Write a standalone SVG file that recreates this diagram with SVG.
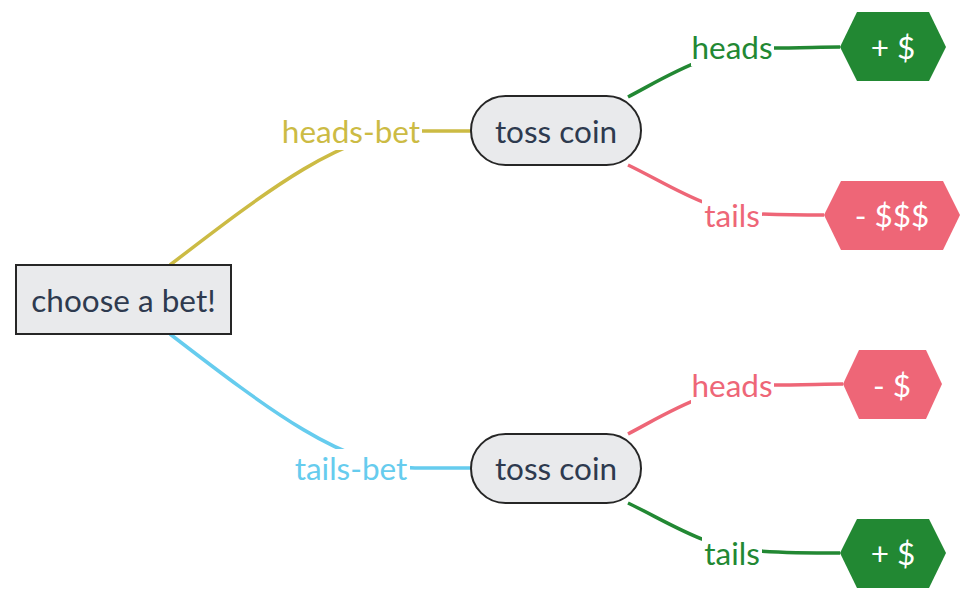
<svg xmlns="http://www.w3.org/2000/svg" width="969" height="595" viewBox="0 0 969 595">
<style>
text{font-family:Lato,"Open Sans","Liberation Sans",sans-serif;font-size:31.5px;text-anchor:middle;dominant-baseline:central}
.node{fill:#e9eaec;stroke:#262626;stroke-width:2}
.nt{fill:#2e3a4f}
.ht{fill:#ffffff}
.edge{fill:none;stroke-width:3.5}
.lbg{fill:#ffffff}
.y{stroke:#ccbb44}.yt{fill:#ccbb44}
.b{stroke:#66ccee}.bt{fill:#66ccee}
.g{stroke:#228833}.gt{fill:#228833}
.r{stroke:#ee6677}.rt{fill:#ee6677}
</style>
<g id="connectors">
<path class="edge y" d="M170,265 C270,188 345,131 415,131 L471,131"/>
<path class="edge b" d="M170,334 C270,411 345,468 415,468 L471,468"/>
<path class="edge g" d="M628,97 C670,75 710,48 770,48 C800,48 820,47 840,47"/>
<path class="edge r" d="M628,165 C670,185 710,214 760,214 C790,215 810,215 824,215"/>
<path class="edge r" d="M628,434 C670,412 710,385 770,385 C800,385 825,384 843,384"/>
<path class="edge g" d="M628,503 C670,523 710,551 760,551 C790,553 815,553 840,553"/>
</g>
<g id="labels">
<g id="lbl-heads-bet"><rect class="lbg" x="280" y="112" width="142" height="38"/><text class="yt" x="351" y="131">heads-bet</text></g>
<g id="lbl-tails-bet"><rect class="lbg" x="293" y="449" width="117" height="38"/><text class="bt" x="351" y="468">tails-bet</text></g>
<g id="lbl-heads-1"><rect class="lbg" x="691" y="28" width="83" height="38"/><text class="gt" x="732" y="47">heads</text></g>
<g id="lbl-tails-1"><rect class="lbg" x="702" y="196" width="60" height="38"/><text class="rt" x="732" y="215">tails</text></g>
<g id="lbl-heads-2"><rect class="lbg" x="691" y="366" width="83" height="38"/><text class="rt" x="732" y="385">heads</text></g>
<g id="lbl-tails-2"><rect class="lbg" x="702" y="534" width="60" height="38"/><text class="gt" x="732" y="553">tails</text></g>
</g>
<g id="choose"><rect class="node" x="16" y="265" width="215" height="69"/><text class="nt" x="123.5" y="300">choose a bet!</text></g>
<g id="toss1"><rect class="node" x="471" y="96" width="170" height="69" rx="34.5"/><text class="nt" x="556" y="131">toss coin</text></g>
<g id="toss2"><rect class="node" x="471" y="434" width="170" height="69" rx="34.5"/><text class="nt" x="556" y="468">toss coin</text></g>
<g id="win1"><polygon class="gt" points="840,47 857,12 929,12 946,47 929,81 857,81"/><text class="ht" x="893" y="47">+ $</text></g>
<g id="lose1"><polygon class="rt" points="824,215 841,181 943,181 960,215 943,250 841,250"/><text class="ht" x="892" y="215">- $$$</text></g>
<g id="lose2"><polygon class="rt" points="843,384 859,350 926,350 942,384 926,419 859,419"/><text class="ht" x="892" y="385">- $</text></g>
<g id="win2"><polygon class="gt" points="840,553 857,519 929,519 946,553 929,588 857,588"/><text class="ht" x="893" y="553">+ $</text></g>
</svg>
